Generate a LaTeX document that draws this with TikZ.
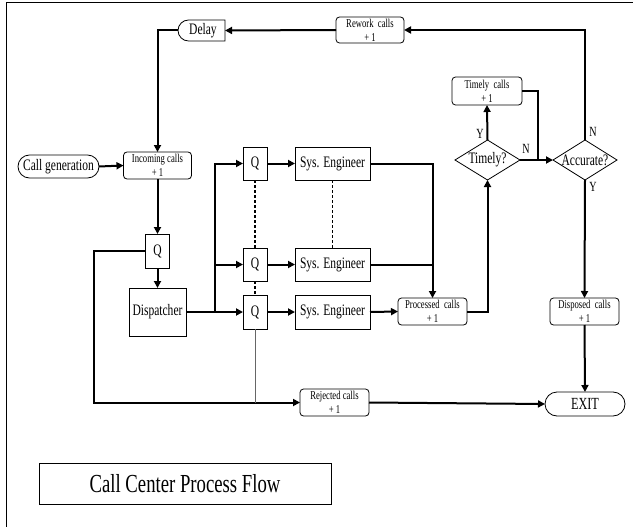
\documentclass[tikz,border=0pt]{standalone}
\usepackage{fontspec}
\setmainfont{Liberation Serif}[FakeStretch=0.72]
\usetikzlibrary{arrows.meta,shapes.geometric,shapes.misc}
\begin{document}
\begin{tikzpicture}[x=1pt,y=-1pt,
  every node/.style={inner sep=0pt,outer sep=0pt},
  plain/.style={draw,line width=0.8pt,rectangle,font=\fontsize{16}{17}\selectfont},
  rbox/.style={draw,line width=0.8pt,rectangle,rounded corners=3.5pt,align=center,font=\fontsize{12}{14}\selectfont},
  qbox/.style={plain,minimum width=24pt,minimum height=34pt},
  sebox/.style={plain,minimum width=75pt,minimum height=33pt},
  smallbox/.style={rbox,minimum width=69pt,minimum height=27pt},
  dia/.style={draw,line width=0.8pt,diamond,aspect=1.6,minimum width=65pt,minimum height=40pt,font=\fontsize{16}{17}\selectfont},
  stad/.style={draw,line width=0.8pt,rounded rectangle,font=\fontsize{16}{17}\selectfont},
  lab/.style={font=\fontsize{14}{15}\selectfont},
  conn/.style={line width=2pt},
  arr/.style={conn,-{Triangle[length=7pt,width=7pt]}},
  dashline/.style={line width=1.2pt,dash pattern=on 3pt off 2pt}
]
\useasboundingbox (0,0) rectangle (635,527);
\draw[line width=1pt] (6,527) -- (6,3) -- (633,3);

% nodes
\node[stad,rounded rectangle right arc=none,minimum width=47pt,minimum height=21pt] (delay) at (203,30.5) {Delay};
\node[rbox,minimum width=68pt,minimum height=26pt] (rework) at (370,30) {Rework\ \ calls\\+ 1};
\node[stad,minimum width=81pt,minimum height=23pt] (callgen) at (58.5,166.5) {Call generation};
\node[rbox,minimum width=68pt,minimum height=27pt] (incoming) at (157.5,165.5) {Incoming calls\\+ 1};
\node[qbox] (q1) at (157.5,251) {Q};
\node[plain,minimum width=57pt,minimum height=48pt] (disp) at (157.5,312) {Dispatcher};
\node[qbox,minimum height=33pt] (qa) at (255,163.5) {Q};
\node[qbox,minimum height=33pt] (qb) at (255,264.5) {Q};
\node[qbox] (qc) at (255,312) {Q};
\node[sebox] (sea) at (332.5,163.5) {Sys. Engineer};
\node[sebox] (seb) at (332.5,264.5) {Sys. Engineer};
\node[sebox,minimum height=34pt] (sec) at (332.5,312) {Sys. Engineer};
\node[smallbox] (proc) at (432.5,311.5) {Processed\ \ calls\\+ 1};
\node[dia] (timely) at (487.5,160) {Timely?};
\node[rbox,minimum width=70pt,minimum height=28pt] (tcalls) at (487,91) {Timely\ \ calls\\+ 1};
\node[dia,minimum width=64pt] (acc) at (585,160) {Accurate?};
\node[smallbox] (disposed) at (584.5,311.5) {Disposed\ \ calls\\+ 1};
\node[stad,minimum width=80pt,minimum height=24pt,font=\fontsize{17}{18}\selectfont] (exit) at (585,404) {EXIT};
\node[smallbox] (rej) at (334.5,402.5) {Rejected calls\\+ 1};
\node[draw,line width=0.8pt,minimum width=292pt,minimum height=41pt,font=\fontsize{26}{28}\selectfont] (title) at (185,483.5) {Call Center Process Flow};

% coordinates
\coordinate (rl) at (94,251);
\coordinate (bp) at (215,312);
\coordinate (jn) at (538,160);

% connectors
\draw[arr] (callgen.east) -- (incoming.west);
\draw[arr] (incoming.south) -- (q1.north);
\draw[arr] (q1.south) -- (disp.north);
\draw[arr] (delay.west) -| (incoming.north);
\draw[arr] (rework.west) -- (delay.east);
\draw[arr] (acc.north) |- (rework.east);
\draw[arr] (q1.west) -- (rl) |- (rej.west);
\draw[arr] (disp.east) -- (qc.west);
\draw[arr] (bp) |- (qa.west);
\draw[arr] (bp |- qb.west) -- (qb.west);
\draw[arr] (qa.east) -- (sea.west);
\draw[arr] (qb.east) -- (seb.west);
\draw[arr] (qc.east) -- (sec.west);
\draw[dashline] (qa.south) -- (qb.north);
\draw[dashline] (qb.south) -- (qc.north);
\draw[dashline] (sea.south) -- (seb.north);
\draw[line width=0.6pt,black!60] (qc.south) -- (qc.south |- rej.west);
\draw[arr] (sea.east) -| (proc.north);
\draw[conn] (seb.east) -- (proc.north |- seb.east);
\draw[arr] (sec.east) -- (proc.west);
\draw[arr] (proc.east) -| (timely.south);
\draw[arr] (timely.north) -- (tcalls.south);
\draw[conn] (tcalls.east) -| (jn);
\draw[arr] (timely.east) -- (acc.west);
\draw[arr] (acc.south) -- (disposed.north);
\draw[arr] (disposed.south) -- (exit.north);
\draw[arr] (rej.east) -- (exit.west);

% labels
\node[lab] (ly1) at (480,134) {Y};
\node[lab] (ln1) at (526,149) {N};
\node[lab] (ln2) at (593,132) {N};
\node[lab] (ly2) at (593,187) {Y};
\end{tikzpicture}
\end{document}
